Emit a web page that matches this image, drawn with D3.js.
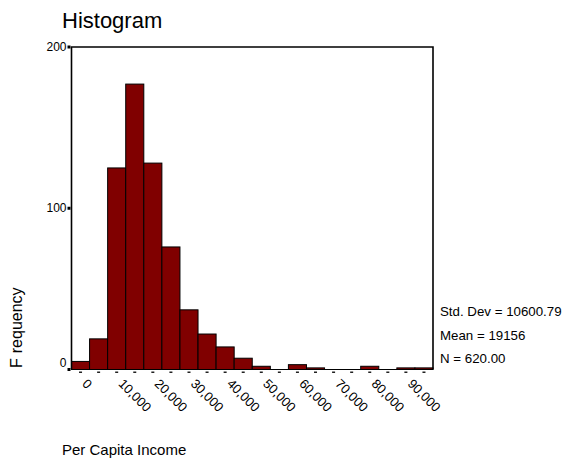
<!DOCTYPE html>
<html><head><meta charset="utf-8">
<script src="https://cdn.jsdelivr.net/npm/d3@7"></script>
<style>body{margin:0;background:#fff;} svg{display:block;font-family:"Liberation Sans",Arial,sans-serif;}</style>
</head><body>
<svg id="c" width="566" height="463"></svg>
<script>
const binCenters = [0,5000,10000,15000,20000,25000,30000,35000,40000,45000,50000,55000,60000,65000,70000,75000,80000,85000,90000,95000];
const counts =     [5,19,125,177,128,76,37,22,14,7,2,0,3,1,0,0,2,0,1,1];
const binWidth = 5000;
const xTickLabels = [0,10000,20000,30000,40000,50000,60000,70000,80000,90000];
const yTicks = [0,100,200];
const stats = ["Std. Dev = 10600.79","Mean = 19156","N = 620.00"];

const svg = d3.select("#c");
const L=71.5, R=433, T=47, B=369.5;
const x = d3.scaleLinear().domain([-2500,97500]).range([L,R]);
const y = d3.scaleLinear().domain([0,200]).range([B,T]);

// title
svg.append("text").attr("x",62).attr("y",28).attr("font-size",22).text("Histogram");

// bars
svg.append("g").selectAll("rect").data(binCenters.map((c,i)=>({c,n:counts[i]})).filter(d=>d.n>0))
 .join("rect")
 .attr("x",d=>x(d.c-binWidth/2)).attr("width",d=>x(d.c+binWidth/2)-x(d.c-binWidth/2))
 .attr("y",d=>y(d.n)).attr("height",d=>y(0)-y(d.n))
 .attr("fill","#800000").attr("stroke","#000").attr("stroke-width",1);

// frame
svg.append("path").attr("d",`M${L},${B}V${T}H${R}V${B}`).attr("fill","none").attr("stroke","#000").attr("stroke-width",1.6);
svg.append("line").attr("x1",L).attr("x2",R).attr("y1",B).attr("y2",B).attr("stroke","#000").attr("stroke-width",1);

// y ticks
const yg = svg.append("g");
yTicks.forEach(v=>{
  yg.append("rect").attr("x",L-4).attr("y",y(v)-1.5).attr("width",3).attr("height",3).attr("fill","#000");
  yg.append("text").attr("x",L-5).attr("y",y(v)+(v===0?-3:4)).attr("text-anchor","end").attr("font-size",12).text(d3.format("d")(v));
});

// x tick dashes at bin centers
svg.append("g").selectAll("rect").data(binCenters).join("rect")
 .attr("x",d=>x(d)-1.5).attr("y",B+2).attr("width",3).attr("height",1.5).attr("fill","#222");

// x labels rotated
svg.append("g").selectAll("text").data(xTickLabels).join("text")
 .attr("transform",d=>`translate(${x(d)+1},${B+15}) rotate(45)`)
 .attr("font-size",13).text(d=>d3.format(",")(d));

// axis titles
const yt = svg.append("text").attr("transform","translate(22,368) rotate(-90)").attr("font-size",16);
yt.append("tspan").text("F");
yt.append("tspan").attr("dx",5).text("requency");
svg.append("text").attr("x",62).attr("y",455).attr("font-size",15).text("Per Capita Income");

// stats
svg.append("g").selectAll("text").data(stats).join("text")
 .attr("x",440).attr("y",(d,i)=>316+i*23.5).attr("font-size",13.3).text(d=>d);
</script>
</body></html>
